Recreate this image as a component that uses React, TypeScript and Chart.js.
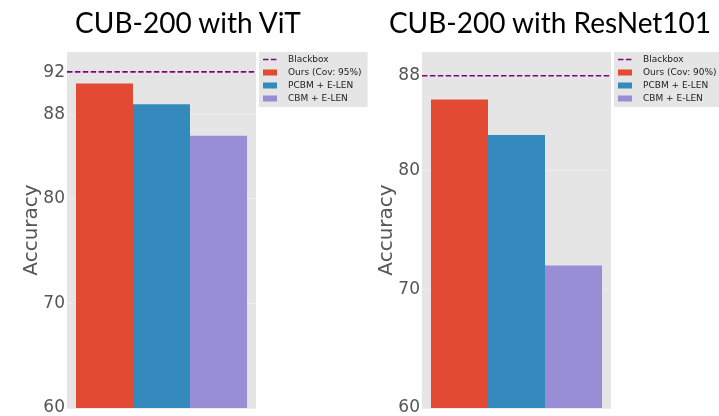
import React, { useEffect, useRef } from "react";
import { Chart, registerables } from "chart.js";

Chart.register(...registerables);

// ---- data ----
const SERIES_NAMES = ["Ours", "PCBM + E-LEN", "CBM + E-LEN"];
const SERIES_COLORS = ["#E24A33", "#348ABD", "#988ED5"];
const BLACKBOX_LABEL = "Blackbox";

const VIT_TITLE = "CUB-200 with ViT";
const VIT_VALUES = [91.0, 89.0, 86.0];
const VIT_BLACKBOX = 92.1;
const VIT_COVERAGE = "95%";
const VIT_TICKS = [60, 70, 80, 88, 92];
const VIT_RANGE = [60, 94];

const RESNET_TITLE = "CUB-200 with ResNet101";
const RESNET_VALUES = [86.0, 83.0, 72.0];
const RESNET_BLACKBOX = 88.0;
const RESNET_COVERAGE = "90%";
const RESNET_TICKS = [60, 70, 80, 88];
const RESNET_RANGE = [60, 90];

const Y_LABEL = "Accuracy";

type PanelProps = {
  left: number;
  width: number;
  values: number[];
  blackbox: number;
  coverage: string;
  ticks: number[];
  range: number[];
  padLeft: number;
  axisWidth: number;
  padRight: number;
};

function Panel(p: PanelProps) {
  const ref = useRef<HTMLCanvasElement>(null);
  useEffect(() => {
    const canvas = ref.current!;
    const bgPlugin = {
      id: "plotBg",
      beforeDraw(chart: any) {
        const { ctx, chartArea: a } = chart;
        ctx.save();
        ctx.fillStyle = "#E5E5E5";
        ctx.fillRect(a.left, a.top, a.right - a.left, a.bottom - a.top);
        ctx.restore();
      },
    };
    const linePlugin = {
      id: "blackboxLine",
      afterDatasetsDraw(chart: any) {
        const { ctx, chartArea: a } = chart;
        const y = chart.scales.y.getPixelForValue(p.blackbox);
        ctx.save();
        ctx.strokeStyle = "#800080";
        ctx.lineWidth = 1.6;
        ctx.setLineDash([5.5, 2.4]);
        ctx.beginPath();
        ctx.moveTo(a.left, y);
        ctx.lineTo(a.right, y);
        ctx.stroke();
        ctx.restore();
      },
    };
    const legendPlugin = {
      id: "boxLegend",
      afterDraw(chart: any) {
        const { ctx, chartArea: a } = chart;
        const labels = [
          BLACKBOX_LABEL,
          `${SERIES_NAMES[0]} (Cov: ${p.coverage})`,
          SERIES_NAMES[1],
          SERIES_NAMES[2],
        ];
        ctx.save();
        ctx.font = '9px "DejaVu Sans"';
        const tw = Math.max(...labels.map((l) => ctx.measureText(l).width));
        const x0 = a.right + 3;
        const y0 = a.top;
        const w = 29 + tw + 6;
        const h = 55;
        ctx.fillStyle = "#E5E5E5";
        ctx.fillRect(x0, y0, w, h);
        labels.forEach((lab, i) => {
          const ry = y0 + 7.5 + i * 13;
          if (i === 0) {
            ctx.strokeStyle = "#800080";
            ctx.lineWidth = 1.6;
            ctx.setLineDash([5.5, 2.4]);
            ctx.beginPath();
            ctx.moveTo(x0 + 4, ry);
            ctx.lineTo(x0 + 18, ry);
            ctx.stroke();
            ctx.setLineDash([]);
          } else {
            ctx.fillStyle = SERIES_COLORS[i - 1];
            ctx.fillRect(x0 + 4, ry - 3, 14, 6);
          }
          ctx.fillStyle = "#222";
          ctx.textBaseline = "middle";
          ctx.textAlign = "left";
          ctx.fillText(lab, x0 + 29, ry);
        });
        ctx.restore();
      },
    };
    const chart = new Chart(canvas, {
      type: "bar",
      data: {
        labels: [""],
        datasets: SERIES_NAMES.map((name, i) => ({
          label: name,
          data: [p.values[i]],
          backgroundColor: SERIES_COLORS[i],
          borderWidth: 0,
          categoryPercentage: 0.905,
          barPercentage: 1,
        })),
      },
      options: {
        responsive: false,
        animation: false,
        layout: { padding: { left: p.padLeft, right: p.padRight, top: 52, bottom: 8 } },
        plugins: {
          legend: { display: false },
          tooltip: { enabled: false },
          title: { display: false },
        },
        scales: {
          x: { display: false },
          y: {
            min: p.range[0],
            max: p.range[1],
            afterBuildTicks: (s: any) => {
              s.ticks = p.ticks.map((v) => ({ value: v }));
            },
            afterFit: (s: any) => {
              s.width = p.axisWidth;
              s.paddingTop = 0;
              s.paddingBottom = 0;
            },
            ticks: {
              color: "#555",
              font: { family: "DejaVu Sans", size: 17 },
              padding: 2,
              autoSkip: false,
              callback: (v: any) => String(v),
            },
            grid: { color: "#EDEDED", drawTicks: false, lineWidth: 1 },
            border: { display: false },
            title: {
              display: true,
              text: Y_LABEL,
              color: "#555",
              font: { family: "DejaVu Sans", size: 20 },
              padding: 0,
            },
          },
        },
      } as any,
      plugins: [bgPlugin, linePlugin, legendPlugin],
    });
    return () => chart.destroy();
  }, []);
  return (
    <canvas
      ref={ref}
      width={p.width}
      height={416}
      style={{ position: "absolute", left: p.left, top: 0, width: p.width, height: 416 }}
    />
  );
}

const titleStyle = (center: number): React.CSSProperties => ({
  position: "absolute",
  left: center - 250,
  width: 500,
  top: 8,
  textAlign: "center",
  fontFamily: "Lato",
  fontSize: 28,
  lineHeight: "28px",
  color: "#000",
  whiteSpace: "nowrap",
});

export default function App() {
  useEffect(() => {
    document.body.style.margin = "0";
  }, []);
  return (
    <div style={{ position: "absolute", left: 0, top: 0, width: 719, height: 416, overflow: "hidden", background: "#fff" }}>
      <Panel
        left={0}
        width={372}
        values={VIT_VALUES}
        blackbox={VIT_BLACKBOX}
        coverage={VIT_COVERAGE}
        ticks={VIT_TICKS}
        range={VIT_RANGE}
        padLeft={20}
        axisWidth={47}
        padRight={372 - 256}
      />
      <Panel
        left={360}
        width={359}
        values={RESNET_VALUES}
        blackbox={RESNET_BLACKBOX}
        coverage={RESNET_COVERAGE}
        ticks={RESNET_TICKS}
        range={RESNET_RANGE}
        padLeft={15}
        axisWidth={47}
        padRight={359 - 251}
      />
      <div style={titleStyle(188)}>{VIT_TITLE}</div>
      <div style={titleStyle(550)}>{RESNET_TITLE}</div>
    </div>
  );
}
